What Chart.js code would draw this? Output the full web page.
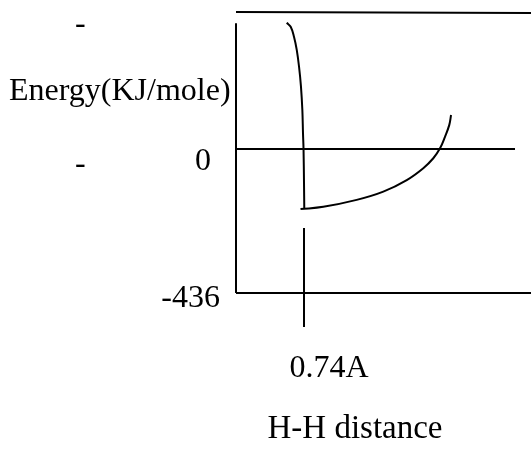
<!DOCTYPE html>
<html>
<head>
<meta charset="utf-8">
<script src="https://cdn.jsdelivr.net/npm/chart.js@4.4.1/dist/chart.umd.min.js"></script>
<style>
  html, body { margin: 0; padding: 0; background: #ffffff; }
  #wrap { width: 531px; height: 449px; position: relative; }
</style>
</head>
<body>
<div id="wrap"><canvas id="c" width="531" height="449"></canvas></div>
<script>
// ---- data (distance in Å, energy in kJ/mole) ----
const repulsiveDistance = [0.552, 0.595, 0.631, 0.661, 0.686, 0.707, 0.722, 0.729, 0.735, 0.740, 0.743];
const repulsiveEnergy   = [382, 370, 340, 300, 249, 189, 118, 48, -3, -103, -182];
const attractiveDistance = [0.702, 0.950, 1.313, 1.603, 1.858, 2.038, 2.147, 2.220, 2.274, 2.321, 2.340];
const attractiveEnergy   = [-182, -175, -154, -129, -94, -58, -28, 2, 37, 73, 103];
const energyAxisDistance = [0, 0];
const energyAxisEnergy   = [381, -436];
const zeroLineDistance = [0, 3.036];
const zeroLineEnergy   = [0, 0];
const baseLineDistance = [0, 3.21];
const baseLineEnergy   = [-436, -436];
const topLineDistance = [0, 3.21];
const topLineEnergy   = [415, 412];
const bondMarkDistance = [0.74, 0.74];
const bondMarkEnergy   = [-239, -539];
const energyTickValues = [0, -436];
const energyTickLabels = ['0', '-436'];
const bondLengthValue = 0.74;
const bondLengthLabel = '0.74A';
const yTitle = 'Energy(KJ/mole)';
const xTitle = 'H-H distance';

function pts(xs, ys) { return xs.map((x, i) => ({ x: x, y: ys[i] })); }

function lineSet(xs, ys, smooth) {
  return {
    data: pts(xs, ys),
    showLine: true,
    borderColor: '#000000',
    borderWidth: 2,
    pointRadius: 0,
    fill: false,
    tension: smooth ? 0.4 : 0,
    clip: false
  };
}

const FONT = '32px "Liberation Serif", "Times New Roman", serif';

const textPlugin = {
  id: 'texts',
  afterDraw(chart) {
    const ctx = chart.ctx;
    const xs = chart.scales.x, ys = chart.scales.y;
    const x0 = xs.getPixelForValue(0);
    ctx.save();
    ctx.fillStyle = '#000000';
    ctx.font = FONT;
    ctx.textBaseline = 'alphabetic';
    // energy tick labels
    const tickStyle = [{ dx: -25, dy: 21 }, { dx: -16, dy: 14 }];
    energyTickLabels.forEach((lab, i) => {
      ctx.textAlign = 'right';
      ctx.fillText(lab, x0 + tickStyle[i].dx, ys.getPixelForValue(energyTickValues[i]) + tickStyle[i].dy);
    });
    // dashes at the far left
    ctx.textAlign = 'left';
    ctx.fillText('-', 75, ys.getPixelForValue(energyTickValues[0]) + 24);
    ctx.fillText('-', 75, 33);
    // y title
    ctx.fillText(yTitle, 9, 100);
    // bond length label
    ctx.textAlign = 'center';
    ctx.fillText(bondLengthLabel, xs.getPixelForValue(bondLengthValue) + 25, 377);
    // x title
    ctx.font = '33px "Liberation Serif", "Times New Roman", serif';
    ctx.fillText(xTitle, 355, 438);
    ctx.restore();
  }
};

new Chart(document.getElementById('c'), {
  type: 'scatter',
  data: {
    datasets: [
      lineSet(topLineDistance, topLineEnergy, false),
      lineSet(energyAxisDistance, energyAxisEnergy, false),
      lineSet(zeroLineDistance, zeroLineEnergy, false),
      lineSet(baseLineDistance, baseLineEnergy, false),
      lineSet(bondMarkDistance, bondMarkEnergy, false),
      lineSet(repulsiveDistance, repulsiveEnergy, true),
      lineSet(attractiveDistance, attractiveEnergy, true)
    ]
  },
  options: {
    responsive: false,
    animation: false,
    layout: { padding: 0 },
    plugins: { legend: { display: false }, tooltip: { enabled: false } },
    scales: {
      x: { type: 'linear', min: -2.568, max: 3.210, display: false },
      y: { type: 'linear', min: -908.3, max: 451.1, display: false }
    }
  },
  plugins: [textPlugin]
});
</script>
</body>
</html>
